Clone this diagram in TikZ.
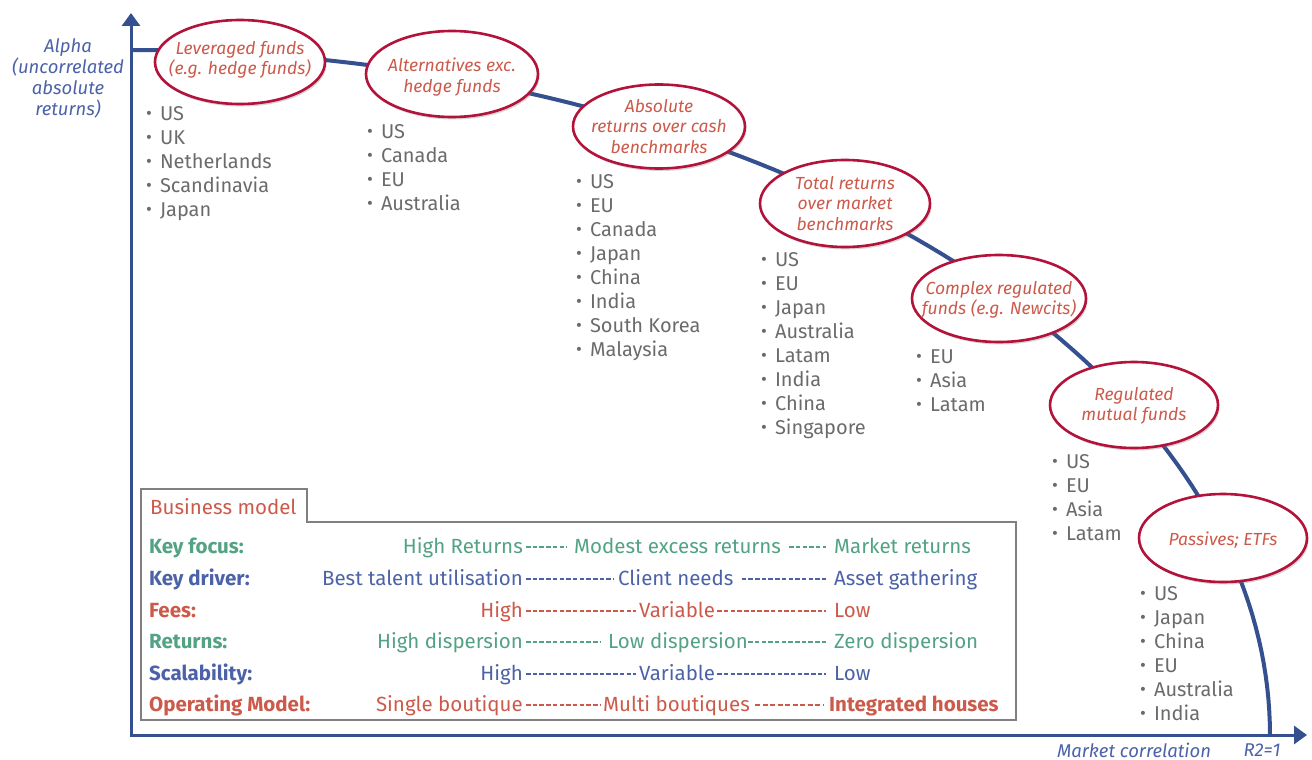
\documentclass[tikz,border=0pt]{standalone}
\usepackage{fontspec}
\setmainfont{Fira Sans}
\usetikzlibrary{shapes.geometric,shadows,arrows.meta}
\definecolor{axisblue}{HTML}{34508F}
\definecolor{crimson}{HTML}{B3123A}
\definecolor{coral}{HTML}{CC5A4B}
\definecolor{tgreen}{HTML}{52A283}
\definecolor{tblue}{HTML}{4C62A8}
\definecolor{lgray}{HTML}{6A6B6D}
\definecolor{boxgray}{HTML}{808080}
\newcommand\bul{\raisebox{0.6pt}{\fontsize{18}{18}\selectfont•}\hspace{8pt}}
\begin{document}
\begin{tikzpicture}[x=1pt,y=-1pt,
  axisline/.style={draw=axisblue,line width=3pt},
  curve/.style={draw=axisblue,line width=4pt},
  oval/.style={ellipse,draw=crimson,line width=2.6pt,fill=white,
    drop shadow={opacity=0.3,shadow xshift=1.5pt,shadow yshift=-2.5pt,fill=black!55},
    inner sep=0pt},
  ovaltext/.style={inner sep=0pt,font=\fontsize{17.5}{20.5}\selectfont\itshape,text=coral,align=center},
  axlabel/.style={inner sep=0pt,font=\fontsize{18.5}{21}\selectfont\itshape,text=tblue,align=center},
  item/.style={anchor=base west,inner sep=0pt,font=\fontsize{20}{24}\selectfont,text=lgray},
  tab/.style={inner sep=0pt,font=\fontsize{20.5}{24}\selectfont},
  lab/.style={tab,anchor=base west,font=\fontsize{20.5}{24}\selectfont\bfseries},
  cl/.style={tab,anchor=base east},
  cr/.style={tab,anchor=base west},
  dsh/.style={line width=1.3pt,dash pattern=on 4.5pt off 2.2pt},
  dshb/.style={line width=2pt,dash pattern=on 5pt off 2.5pt}
]
\useasboundingbox (0,0) rectangle (1312,760);

% axes
\coordinate (O) at (131,735);
\coordinate (ytop) at (131,13);
\coordinate (xend) at (1307,735);
\draw[axisline,-{Triangle[width=18pt,length=13pt]}] ([yshift=-1.5pt]O) -- (ytop);
\draw[axisline,-{Triangle[width=18pt,length=13pt]}] ([xshift=-1.5pt]O) -- (xend);

\node[axlabel] (ylab) at (68,78) {Alpha\\(uncorrelated\\absolute\\returns)};
\node[axlabel] (xlab) at (1134,750) {Market correlation};
\node[axlabel] (r2) at (1262,750) {R2=1};

% curve
\draw[curve] plot[domain=0:90,samples=90] ({131+1139*sin(\x)},{735-685*cos(\x)});

% ellipses
\node[oval,minimum width=170,minimum height=84] (e1) at (240,62) {};
\node[oval,minimum width=172,minimum height=86] (e2) at (452,74) {};
\node[oval,minimum width=172,minimum height=84] (e3) at (659,126.5) {};
\node[oval,minimum width=170,minimum height=87] (e4) at (845,203.5) {};
\node[oval,minimum width=174,minimum height=87] (e5) at (999,298.5) {};
\node[oval,minimum width=168,minimum height=86] (e6) at (1134,405) {};
\node[oval,minimum width=168,minimum height=88] (e7) at (1223,538) {};
\node[ovaltext] (t1) at ([yshift=2pt]e1) {Leveraged funds\\(e.g. hedge funds)};
\node[ovaltext] (t2) at ([yshift=-3pt]e2) {Alternatives exc.\\hedge funds};
\node[ovaltext] (t3) at (e3) {Absolute\\returns over cash\\benchmarks};
\node[ovaltext] (t4) at (e4) {Total returns\\over market\\benchmarks};
\node[ovaltext] (t5) at ([yshift=-1.5pt]e5) {Complex regulated\\funds (e.g. Newcits)};
\node[ovaltext] (t6) at ([yshift=-1pt]e6) {Regulated\\mutual funds};
\node[ovaltext] (t7) at ([yshift=-2pt]e7) {Passives; ETFs};

% lists
\foreach \n/\bx/\by/\items in {
  1/146/113/{US,UK,Netherlands,Scandinavia,Japan},
  2/367/131/{US,Canada,EU,Australia},
  3/576/181/{US,EU,Canada,Japan,China,India,South Korea,Malaysia},
  4/761/259/{US,EU,Japan,Australia,Latam,India,China,Singapore},
  5/916/356/{EU,Asia,Latam},
  6/1052/461/{US,EU,Asia,Latam},
  7/1140/593/{US,Japan,China,EU,Australia,India}}{
  \foreach \t [count=\k] in \items
    \node[item] (l\n-\k) at (\bx,{\by+24*(\k-1)+7}) {\bul\t};
}

% business model box
\draw[boxgray,line width=1.5pt] (141,720) -- (141,489) -- (307,489) -- (307,522)
  -- (1016,522) -- (1016,720) -- cycle;
\node[tab,anchor=base west,text=coral] (bm) at (150,514) {Business model};

% rows
\foreach \r/\y/\col/\lbl in {1/546/tgreen/Key focus:,2/578/tblue/Key driver:,3/610/coral/Fees:,
  4/641/tgreen/Returns:,5/673/tblue/Scalability:,6/704/coral/Operating Model:}
  \node[lab,text=\col] (lab\r) at (149,\y+7) {\lbl};

\foreach \r/\y/\col/\a/\b/\bx/\c/\cx/\ga/\gb/\gc/\gd in {
  1/546/tgreen/High Returns/Modest excess returns/574/Market returns/834/3/7/8/8,
  2/578/tblue/Best talent utilisation/Client needs/618/Asset gathering/834/3/4/8/8,
  3/610/coral/High/Variable/639/Low/834/3/3/2/8,
  4/641/tgreen/High dispersion/Low dispersion/608/Zero dispersion/834/3/8/0/8,
  5/673/tblue/High/Variable/639/Low/834/3/3/2/8}{
  \node[cl,text=\col] (a\r) at (523,\y+7) {\a};
  \node[cr,text=\col] (b\r) at (\bx,\y+7) {\b};
  \node[cr,text=\col] (c\r) at (\cx,\y+7) {\c};
  \draw[dsh,\col] ([xshift=\ga pt,yshift=6pt]a\r.base east) -- ([xshift=-\gb pt,yshift=6pt]b\r.base west);
  \draw[dsh,\col] ([xshift=\gc pt,yshift=6pt]b\r.base east) -- ([xshift=-\gd pt,yshift=6pt]c\r.base west);
}
\node[cl,text=coral] (a6) at (523,711) {Single boutique};
\node[cr,text=coral] (b6) at (603,711) {Multi boutiques};
\node[cr,text=coral,font=\fontsize{20.5}{24}\selectfont\bfseries] (c6) at (829,711) {Integrated houses};
\draw[dsh,coral] ([xshift=3pt,yshift=6pt]a6.base east) -- ([xshift=-3pt,yshift=6pt]b6.base west);
\draw[dshb,coral] ([xshift=5pt,yshift=6pt]b6.base east) -- ([xshift=-6pt,yshift=6pt]c6.base west);
\end{tikzpicture}
\end{document}
